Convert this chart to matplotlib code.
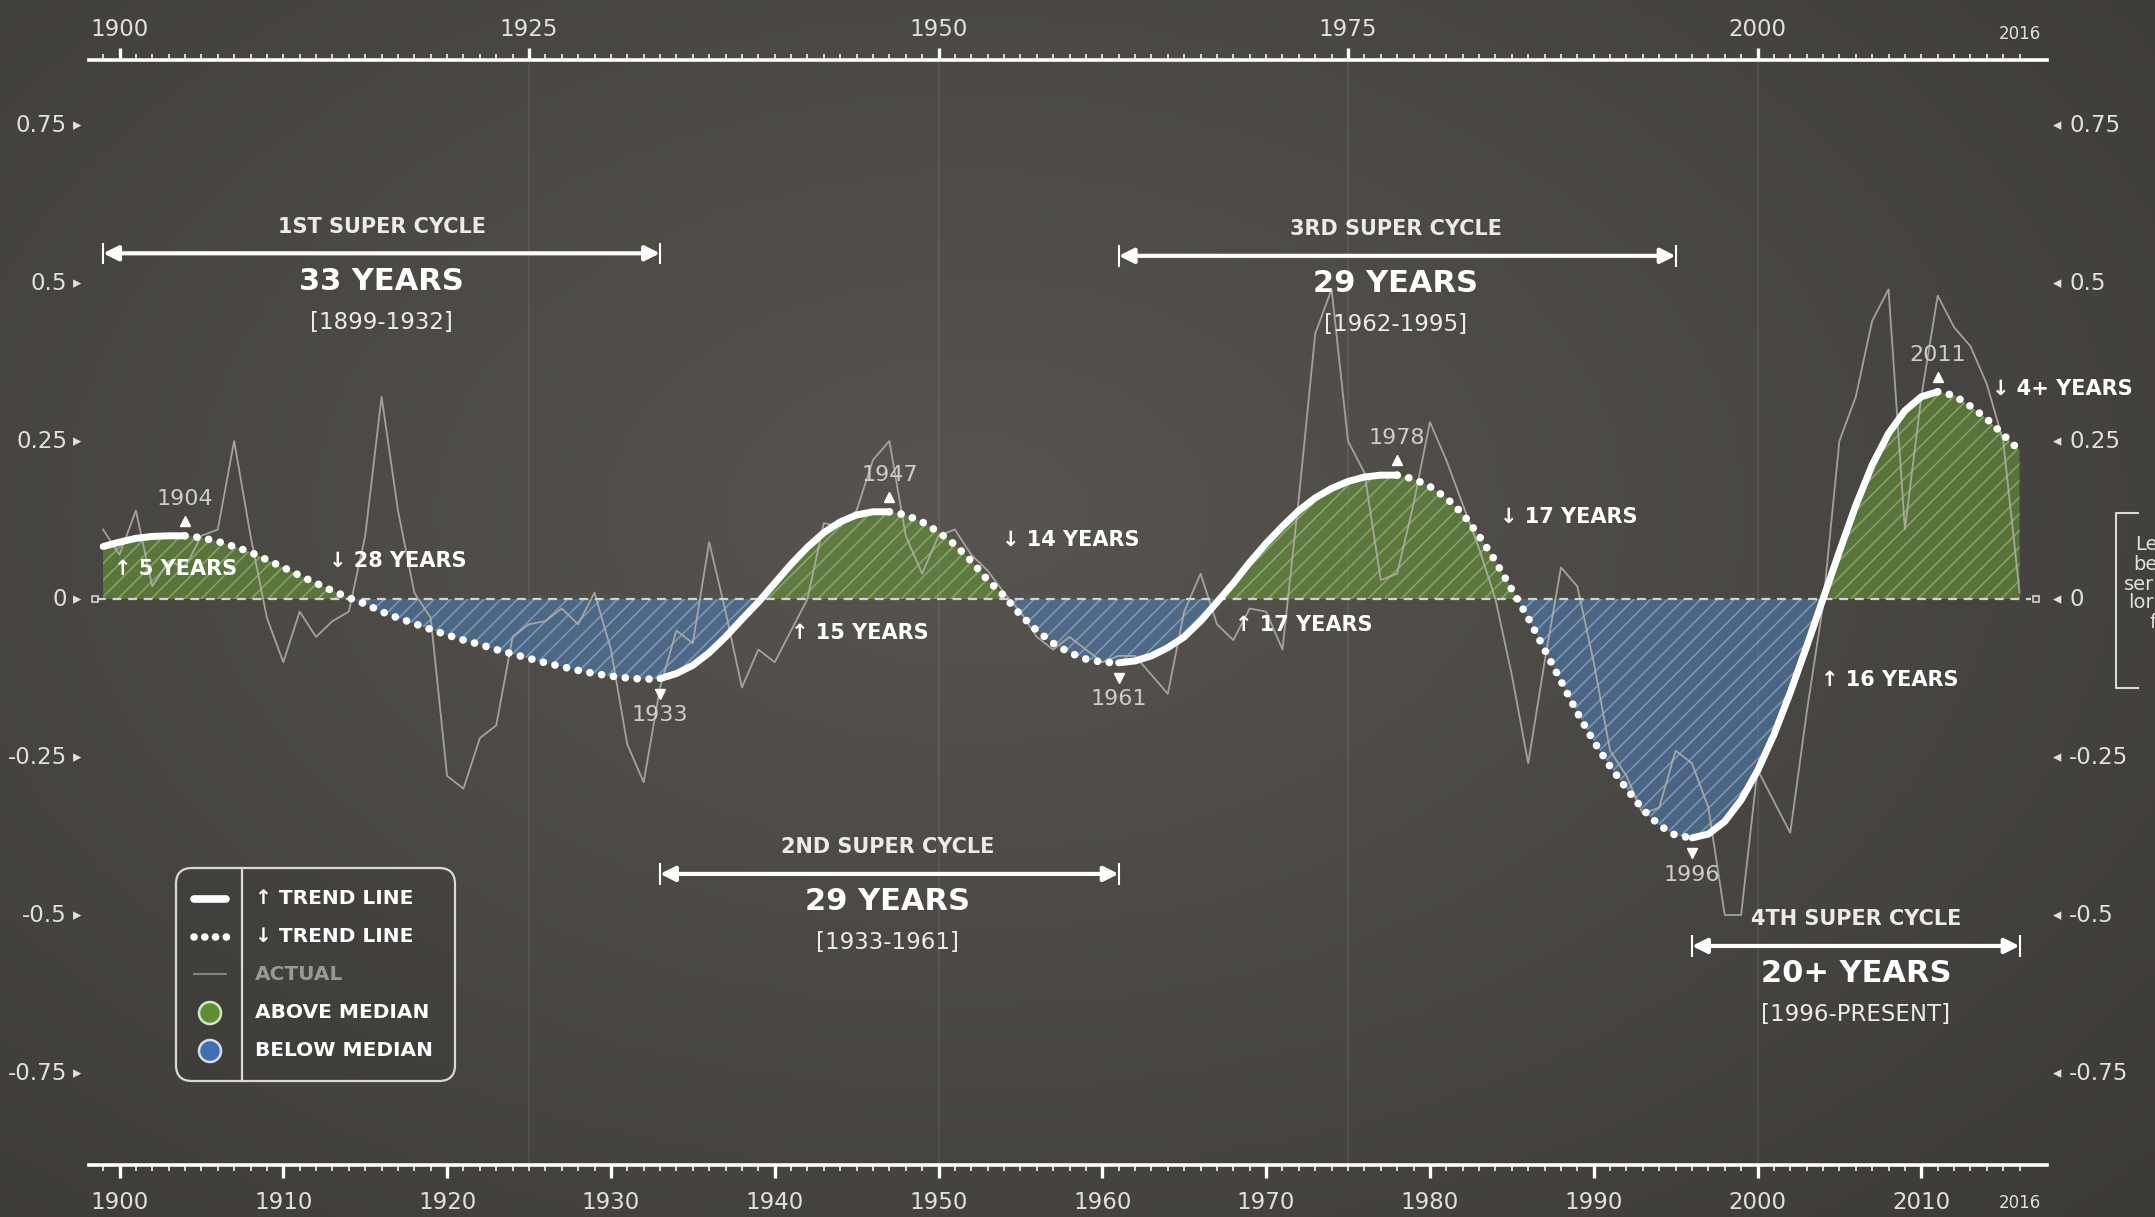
import numpy as np
import matplotlib.pyplot as plt
from matplotlib.patches import FancyBboxPatch, Circle

plt.rcParams['font.family'] = ['DejaVu Sans']

# years of the series
years = np.arange(1899, 2017)

# actual yearly values (deviation from median)
actual = [0.11, 0.07, 0.14, 0.02, 0.06, 0.05, 0.10, 0.11, 0.25, 0.10,
          -0.03, -0.10, -0.02, -0.06, -0.035, -0.02, 0.10, 0.32, 0.14, 0.01,
          -0.03, -0.28, -0.30, -0.22, -0.20, -0.06, -0.04, -0.035, -0.015, -0.04,
          0.01, -0.08, -0.23, -0.29, -0.14, -0.05, -0.07, 0.09, -0.02, -0.14,
          -0.08, -0.10, -0.05, 0.00, 0.12, 0.115, 0.14, 0.22, 0.25, 0.10,
          0.04, 0.10, 0.11, 0.07, 0.045, 0.01, -0.02, -0.06, -0.08, -0.06,
          -0.08, -0.10, -0.09, -0.09, -0.12, -0.15, -0.02, 0.04, -0.04, -0.065,
          -0.015, -0.02, -0.08, 0.16, 0.42, 0.49, 0.25, 0.20, 0.03, 0.04,
          0.15, 0.28, 0.22, 0.15, 0.08, 0.00, -0.12, -0.26, -0.10, 0.05,
          0.02, -0.10, -0.24, -0.28, -0.34, -0.33, -0.24, -0.26, -0.33, -0.50,
          -0.50, -0.27, -0.32, -0.37, -0.18, -0.01, 0.25, 0.32, 0.44, 0.49,
          0.11, 0.32, 0.48, 0.43, 0.40, 0.34, 0.25, 0.01]

# trend line read year by year
trend = [0.083, 0.090, 0.096, 0.099, 0.100, 0.100, 0.097, 0.091, 0.083, 0.074,
         0.062, 0.050, 0.037, 0.025, 0.013, 0.002, -0.008, -0.020, -0.030, -0.039,
         -0.048, -0.057, -0.065, -0.072, -0.080, -0.087, -0.094, -0.101, -0.107, -0.113,
         -0.118, -0.122, -0.125, -0.127, -0.126, -0.118, -0.105, -0.085, -0.060, -0.032,
         -0.005, 0.025, 0.055, 0.082, 0.105, 0.122, 0.133, 0.138, 0.138, 0.133,
         0.122, 0.106, 0.086, 0.060, 0.030, 0.005, -0.025, -0.050, -0.070, -0.085,
         -0.095, -0.100, -0.101, -0.098, -0.090, -0.077, -0.060, -0.035, -0.005, 0.025,
         0.058, 0.088, 0.115, 0.140, 0.160, 0.175, 0.186, 0.193, 0.196, 0.196,
         0.190, 0.178, 0.160, 0.135, 0.100, 0.060, 0.015, -0.030, -0.080, -0.130,
         -0.180, -0.225, -0.265, -0.300, -0.333, -0.358, -0.374, -0.378, -0.372, -0.352,
         -0.318, -0.272, -0.215, -0.148, -0.075, 0.000, 0.075, 0.148, 0.212, 0.262,
         0.298, 0.320, 0.328, 0.322, 0.305, 0.285, 0.260, 0.235]

turns = [1899, 1904, 1933, 1947, 1961, 1978, 1996, 2011, 2016]
extreme_years = [1904, 1933, 1947, 1961, 1978, 1996, 2011]
extreme_top = [True, False, True, False, True, False, True]

durations = ['↑ 5 YEARS', '↓ 28 YEARS', '↑ 15 YEARS', '↓ 14 YEARS',
             '↑ 17 YEARS', '↓ 17 YEARS', '↑ 16 YEARS', '↓ 4+ YEARS']

cycle_names = ['1ST SUPER CYCLE', '2ND SUPER CYCLE', '3RD SUPER CYCLE', '4TH SUPER CYCLE']
cycle_lengths = ['33 YEARS', '29 YEARS', '29 YEARS', '20+ YEARS']
cycle_ranges = ['[1899-1932]', '[1933-1961]', '[1962-1995]', '[1996-PRESENT]']
cycle_start = [1899, 1933, 1961, 1996]
cycle_end = [1933, 1961, 1995, 2016]

yticks = [0.75, 0.5, 0.25, 0, -0.25, -0.5, -0.75]
ytick_labels = ['0.75', '0.5', '0.25', '0', '-0.25', '-0.5', '-0.75']

W, H = 2155, 1217
txt = '#e2e0dc'


def px2yr(px):
    return 1900 + (px - 119.5) / 16.38


def py2v(py):
    return (599 - py) / 632.0


fig = plt.figure(figsize=(W / 100, H / 100), dpi=100)

# background vignette
bg = fig.add_axes([0, 0, 1, 1], zorder=-10)
gx, gy = np.meshgrid(np.linspace(0, 1, 400), np.linspace(0, 1, 240))
d = np.sqrt(((gx - 0.45) / 0.75) ** 2 + ((gy - 0.42) / 0.85) ** 2)
t = np.clip(d, 0, 1)[..., None]
c_in = np.array([88, 85, 80]) / 255
c_out = np.array([60, 58, 55]) / 255
bg.imshow(c_in * (1 - t) + c_out * t, aspect='auto', extent=[0, 1, 0, 1])
bg.axis('off')

ax = fig.add_axes([89 / W, 1 - 1165 / H, (2047 - 89) / W, (1165 - 60) / H])
ax.set_facecolor('none')
ax.set_xlim(px2yr(89), px2yr(2047))
ax.set_ylim(py2v(1165), py2v(60))

tr = np.array(trend)
for yr in [1925, 1950, 1975, 2000]:
    ax.axvline(yr, color='white', alpha=0.07, lw=1.5, zorder=0)

green = '#6a9a3a'
blue = '#4d7db8'
ax.fill_between(years, tr, 0, where=tr >= 0, interpolate=True, color=green, alpha=0.55, lw=0, zorder=1)
ax.fill_between(years, tr, 0, where=tr <= 0, interpolate=True, color=blue, alpha=0.55, lw=0, zorder=1)
plt.rcParams['hatch.linewidth'] = 1.2
ax.fill_between(years, tr, 0, where=tr >= 0, interpolate=True, facecolor='none',
                edgecolor=(0.72, 0.86, 0.55, 0.45), hatch='//', lw=0, zorder=1.5)
ax.fill_between(years, tr, 0, where=tr <= 0, interpolate=True, facecolor='none',
                edgecolor=(0.70, 0.82, 0.95, 0.45), hatch='//', lw=0, zorder=1.5)

ax.plot(years, actual, color='#b4b1ac', lw=1.3, alpha=0.85, zorder=2)

ax.hlines(0, years[0] - 0.4, years[-1] + 0.7, colors='#d2d2d2', lw=1.6,
          linestyles=(0, (4, 3)), zorder=3)
ax.plot([years[0] - 0.5, years[-1] + 1.0], [0, 0], 's', ms=5, mfc='none',
        mec='#d2d2d2', mew=1.2, zorder=3, clip_on=False)

for i in range(len(turns) - 1):
    m = (years >= turns[i]) & (years <= turns[i + 1])
    if i % 2 == 0:
        ax.plot(years[m], tr[m], color='white', lw=5, solid_capstyle='round', zorder=5)
    else:
        ax.plot(years[m], tr[m], color='white', lw=5.5, ls=(0, (0.01, 1.55)),
                dash_capstyle='round', zorder=5)

# extreme markers and year labels
for yr, top in zip(extreme_years, extreme_top):
    v = tr[years == yr][0]
    sgn = 1 if top else -1
    ax.plot(yr, v + sgn * 0.024, '^' if top else 'v', color='white', ms=7, zorder=6)
    ax.text(yr, v + sgn * 0.058, str(yr), ha='center', va='center', fontsize=16,
            color='#cfcdca', zorder=6)

# duration labels
dur_x = [1903.4, 1917.0, 1945.2, 1958.1, 1972.3, 1988.5, 2008.1, 2018.6]
dur_y = [0.048, 0.061, -0.054, 0.093, -0.041, 0.130, -0.128, 0.333]
for s, x, y in zip(durations, dur_x, dur_y):
    ax.text(x, y, s, ha='center', va='center', fontsize=15, weight='bold',
            color='white', zorder=7, clip_on=False)

# super cycle annotations
cyc_x = [1916.0, 1946.9, 1977.9, 2006.0]
cyc_y = [0.589, -0.393, 0.585, -0.507]
for name, ln, rg, x0, x1, cx, cy in zip(cycle_names, cycle_lengths, cycle_ranges,
                                         cycle_start, cycle_end, cyc_x, cyc_y):
    ay = cy - 0.042
    ax.annotate('', xy=(x1, ay), xytext=(x0, ay),
                arrowprops=dict(arrowstyle='<|-|>', color='white', lw=3,
                                mutation_scale=22, shrinkA=0, shrinkB=0), zorder=7)
    ax.vlines([x0, x1], ay - 0.017, ay + 0.017, colors='white', lw=1.5, zorder=7)
    ax.text(cx, cy, name, ha='center', va='center', fontsize=15, weight='bold',
            color='#ecebe8', zorder=7)
    ax.text(cx, cy - 0.086, ln, ha='center', va='center', fontsize=22, weight='bold',
            color='white', zorder=7)
    ax.text(cx, cy - 0.151, rg, ha='center', va='center', fontsize=16.5,
            color='#ecebe8', zorder=7)

# y labels on both sides
for v, s in zip(yticks, ytick_labels):
    ax.text(px2yr(67), v, s, ha='right', va='center', fontsize=16.5, color=txt, clip_on=False)
    ax.text(px2yr(77), v, '▸', ha='center', va='center', fontsize=12, color=txt, clip_on=False)
    ax.text(px2yr(2057), v, '◂', ha='center', va='center', fontsize=12, color=txt, clip_on=False)
    ax.text(px2yr(2069), v, s, ha='left', va='center', fontsize=16.5, color=txt, clip_on=False)

# rulers
for sp in ['left', 'right', 'top']:
    ax.spines[sp].set_visible(False)
ax.spines['bottom'].set_color('white')
ax.spines['bottom'].set_linewidth(2.6)
ax.set_yticks([])
ax.set_xticks(range(1900, 2011, 10))
ax.set_xticks(years, minor=True)
ax.tick_params(axis='x', which='major', direction='out', length=9, width=2.4,
               color='white', labelsize=16.5, labelcolor=txt, pad=10)
ax.tick_params(axis='x', which='minor', direction='out', length=4, width=1.1, color='white')
ax.text(2016, py2v(1203), '2016', ha='center', va='center', fontsize=12,
        color=txt, clip_on=False)

ax2 = ax.twiny()
ax2.set_xlim(ax.get_xlim())
for sp in ['left', 'right', 'bottom']:
    ax2.spines[sp].set_visible(False)
ax2.spines['top'].set_color('white')
ax2.spines['top'].set_linewidth(2.6)
ax2.set_xticks([1900, 1925, 1950, 1975, 2000])
ax2.set_xticks(years, minor=True)
ax2.tick_params(axis='x', which='major', direction='out', length=9, width=2.4,
                color='white', labelsize=16.5, labelcolor=txt, pad=5)
ax2.tick_params(axis='x', which='minor', direction='out', length=4, width=1.1, color='white')
ax.text(2016, py2v(34), '2016', ha='center', va='center', fontsize=12,
        color=txt, clip_on=False)

# overlay in pixel coords for legend and the cropped side note
lax = fig.add_axes([0, 0, 1, 1], zorder=20)
lax.set_xlim(0, W)
lax.set_ylim(H, 0)
lax.axis('off')
lax.set_facecolor('none')

lax.add_patch(FancyBboxPatch((176, 868), 279, 213, boxstyle='round,pad=0,rounding_size=16',
                             fc=(0, 0, 0, 0.06), ec='#d9d9d9', lw=1.6))
lax.plot([242, 242], [868, 1081], color='#d9d9d9', lw=1.6)
rows = [899, 937, 974, 1013, 1051]
lax.plot([194, 226], [rows[0]] * 2, color='white', lw=5.5, solid_capstyle='round')
lax.plot([194, 228], [rows[1]] * 2, color='white', lw=5.5, ls=(0, (0.01, 1.4)), dash_capstyle='round')
lax.plot([194, 226], [rows[2]] * 2, color='#8f8d89', lw=1.3)
lax.add_patch(Circle((210, rows[3]), 11, fc='#5f8f35', ec='#d5e6c0', lw=1.8))
lax.add_patch(Circle((210, rows[4]), 11, fc='#3f6fb0', ec='#d0def0', lw=1.8))
leg_text = ['↑ TREND LINE', '↓ TREND LINE', 'ACTUAL', 'ABOVE MEDIAN', 'BELOW MEDIAN']
leg_col = ['white', 'white', '#9a9894', 'white', 'white']
for r, s, c in zip(rows, leg_text, leg_col):
    lax.text(255, r, s, ha='left', va='center', fontsize=14.5, weight='bold', color=c)

lax.plot([2138, 2116, 2116, 2138], [513, 513, 688, 688], color='#d9d9d9', lw=1.5)
for s, x, y in zip(['Le', 'be', 'ser', 'lor', 'f'], [2135, 2133, 2124, 2128, 2150],
                   [545, 565, 584, 603, 622]):
    lax.text(x, y, s, ha='left', va='center', fontsize=14, color=txt)

fig.savefig('out.png', dpi=100, facecolor='#4a4743')
